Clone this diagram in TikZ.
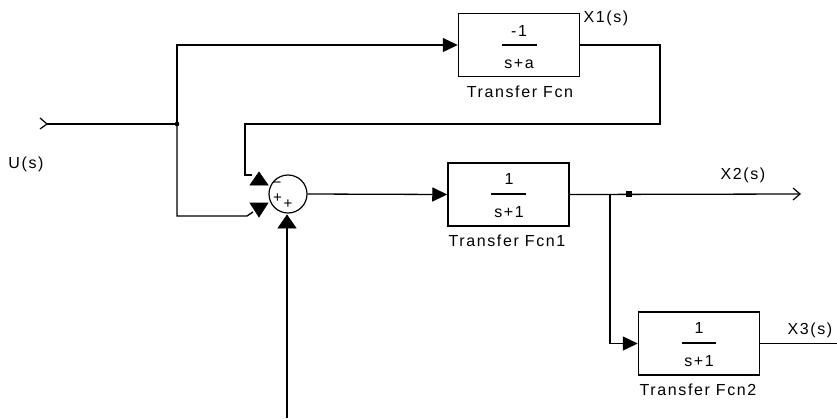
\documentclass[tikz,border=0pt]{standalone}
\usepackage{fontspec}
\setmainfont[LetterSpace=10]{Liberation Sans}
\usetikzlibrary{arrows.meta}
\begin{document}
\begin{tikzpicture}[x=1pt,y=-1pt, line width=1.3pt,
  font=\fontsize{16}{18}\selectfont,
  blk/.style={draw, line width=1.5pt, minimum width=121pt, minimum height=63pt, inner sep=0pt},
  tip/.style={-{Triangle[length=15pt,width=14pt]}},
  txt/.style={inner sep=0pt, anchor=center},
  sgn/.style={inner sep=0pt, anchor=center, font=\fontsize{15}{16}\selectfont},
  porttri/.style={fill=black, draw=black, line width=0.6pt},
  chev/.style={line width=1.2pt}]
\useasboundingbox (0,0) rectangle (837,418);
\fill[white] (0,0) rectangle (837,418);

% blocks
\node[blk] (b1) at (519,45) {};
\node[blk] (b2) at (508.5,194.5) {};
\node[blk] (b3) at (699,343.5) {};
% fractions
\node[txt] (n1) at (519,31) {-1};
\node[txt] (d1) at (519,64) {s+a};
\draw[line width=1.2pt] (502,45) -- (537,45);
\node[txt] (n2) at (509,179) {1};
\node[txt] (d2) at (509,212) {s+1};
\draw[line width=1.2pt] (491,194) -- (526,194);
\node[txt] (n3) at (699,328) {1};
\node[txt] (d3) at (699,361) {s+1};
\draw[line width=1.2pt] (682,343) -- (716,343);
% block labels
\node[txt] (l1) at (520,92) {Transfer Fcn};
\node[txt] (l2) at (507,241) {Transfer Fcn1};
\node[txt] (l3) at (698,390) {Transfer Fcn2};
% signal labels
\node[txt] (us) at (26,164) {U(s)};
\node[txt] (x1) at (606,18) {X1(s)};
\node[txt] (x2) at (743,175) {X2(s)};
\node[txt] (x3) at (810,330) {X3(s)};

% sum block
\node[draw, circle, line width=1.2pt, minimum size=38pt, inner sep=0pt] (sum) at (288,194) {};
\node[sgn] (m1) at (277,185) {−};
\node[sgn] (p1) at (277.5,198) {+};
\node[sgn] (p2) at (288,204) {+};

% coordinates
\coordinate (in) at (47,124);
\coordinate (j1) at (177,124);
\coordinate (fb) at (660,45);
\coordinate (j2) at (610,194);
\coordinate (j2dot) at (629,194);
\coordinate (out2) at (800,194);
\coordinate (out3) at (837,343.5);
\coordinate (bot) at (287,418);
\coordinate (pa) at (259,172);
\coordinate (pb) at (259,217);
\coordinate (pc) at (287,215);

% input chevron
\draw[chev] (40,118) -- (47,124) -- (40,129);
\draw (in) -- (j1);
\fill (j1) circle (2.3pt);
% top path to block 1
\draw[tip] (j1) |- (b1.west);
% lower path to sum lower port
\draw (j1) |- (247,216) -- (253,212);
% feedback from block 1
\draw (b1.east) -- (fb) |- (245,124) -- (245,175) -- (252,175);
% sum port triangles
\fill[porttri] (pa) -- (268,185) -- (250,185) -- cycle;
\fill[porttri] (pb) -- (268,203) -- (250,203) -- cycle;
\fill[porttri] (pc) -- (296,228) -- (278,228) -- cycle;
% bottom input
\draw (bot) -- (287,228);
% sum to block 2
\draw[tip] (sum.east) -- (b2.west);
% block 2 output
\draw (b2.east) -- (out2);
\fill (j2dot) ++(-3,-3) rectangle ++(6,6);
\draw[chev] (793,188) -- (800,194) -- (793,200);
% branch to block 3
\draw[tip] (j2) |- (b3.west);
% block 3 output
\draw (b3.east) -- (out3);
\end{tikzpicture}
\end{document}
